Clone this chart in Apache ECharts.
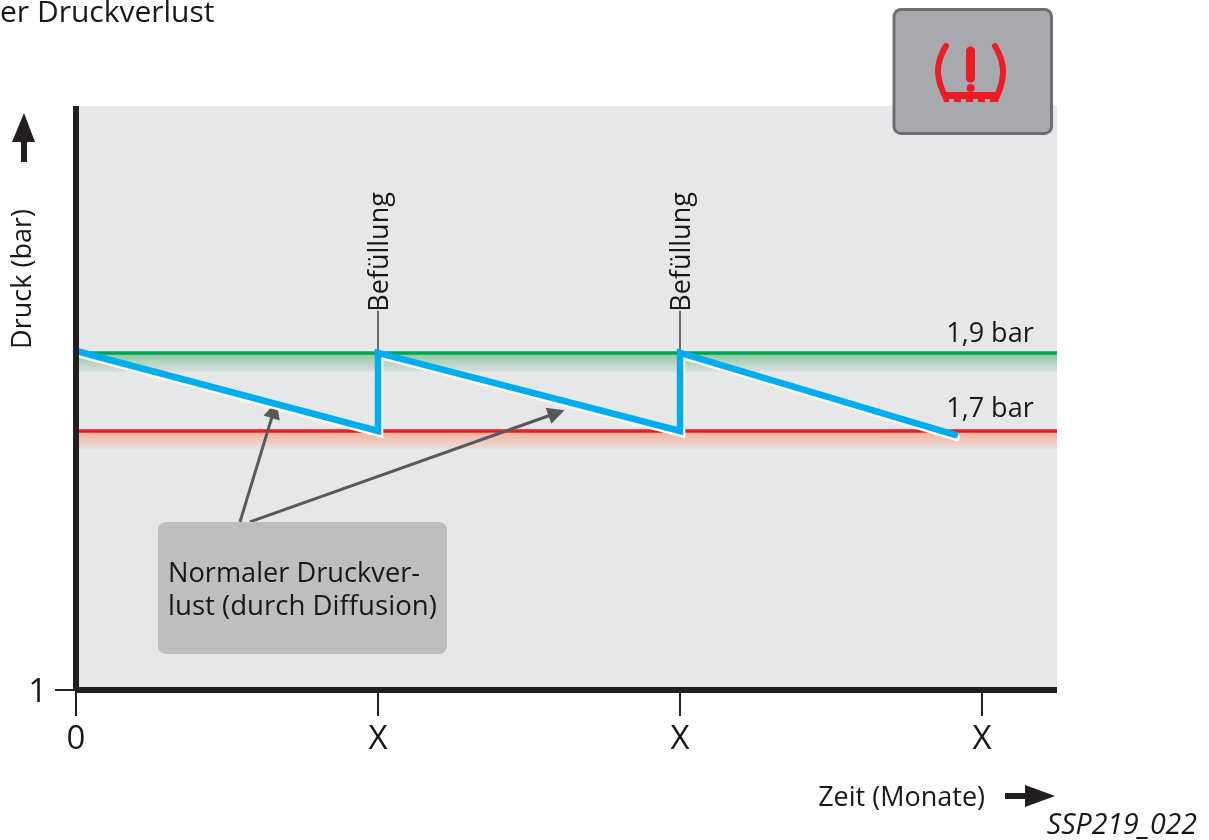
<!DOCTYPE html>
<html><head><meta charset="utf-8">
<style>html,body{margin:0;padding:0;background:#fff}#c{width:1209px;height:840px}</style>
<script src="https://cdn.jsdelivr.net/npm/echarts@6/dist/echarts.min.js"></script>
</head><body><div id="c"></div>
<script>
const FONT = '"Open Sans", sans-serif';
const xTickValues = [0, 1, 2, 3];
const xTickLabels = ['0', 'X', 'X', 'X'];
const yBottom = 1.036;
const yTop = 2.533;
const xMax = 3.248;
const pressureX = [0, 1, 1, 2, 2, 2.91];
const pressureY = [1.905, 1.7, 1.9, 1.7, 1.9, 1.69];
const upperLimit = 1.9;
const lowerLimit = 1.7;
const upperBandBottom = 1.851;
const lowerBandBottom = 1.654;
const limitLabels = ['1,9 bar', '1,7 bar'];
const limitLabelX = 3.026;
const refillX = [1, 2];
const refillTop = 2.008;
const refillLabel = 'Befüllung';
const calloutArrows = [[[0.543, 1.467], [0.656, 1.754]], [[0.576, 1.467], [1.591, 1.746]]];

const INK = '#1a1718';
const grad = (a, b) => new echarts.graphic.LinearGradient(0, 0, 0, 1, [{offset: 0, color: a}, {offset: 1, color: b}]);
const chart = echarts.init(document.getElementById('c'), null, {renderer: 'canvas'});
chart.setOption({
  animation: false,
  backgroundColor: '#fff',
  grid: {left: 76, top: 106, width: 981, height: 584, show: true, backgroundColor: '#e6e7e9', borderWidth: 0},
  xAxis: {
    type: 'value', min: 0, max: xMax, splitLine: {show: false}, z: 10,
    axisLine: {show: true, onZero: false, lineStyle: {color: '#231f20', width: 6, cap: 'butt'}},
    axisTick: {show: true, length: 26, lineStyle: {color: '#231f20', width: 2}, customValues: xTickValues},
    axisLabel: {
      margin: 33, fontFamily: FONT, fontSize: 33, color: INK,
      customValues: xTickValues,
      formatter: v => xTickLabels[xTickValues.indexOf(Math.round(v))]
    }
  },
  yAxis: {
    type: 'value', min: yBottom, max: yTop, splitLine: {show: false}, z: 10,
    axisLine: {show: true, onZero: false, lineStyle: {color: '#231f20', width: 6, cap: 'butt'}},
    axisTick: {show: true, length: 21, lineStyle: {color: '#231f20', width: 2}, customValues: [yBottom]},
    axisLabel: {margin: 29, fontFamily: FONT, fontSize: 33, color: INK, customValues: [yBottom], formatter: () => '{n|1}',
      rich: {n: {fontFamily: FONT, fontSize: 33, color: INK, padding: [5, 0, 0, 0]}}}
  },
  series: [
    {
      name: 'Grenzen', type: 'line', symbol: 'none', silent: true, z: 1,
      data: [[0, upperLimit], [xMax, upperLimit]],
      lineStyle: {color: '#00a651', width: 3.5},
      markArea: {silent: true, z: 0, data: [
        [{coord: [0, upperLimit], itemStyle: {color: grad('#8cc8a0', '#dbe1df')}}, {coord: [xMax, upperBandBottom]}],
        [{coord: [0, lowerLimit], itemStyle: {color: grad('#f6ae98', '#e6e0de')}}, {coord: [xMax, lowerBandBottom]}]
      ]}
    },
    {
      name: 'Grenze unten', type: 'line', symbol: 'none', silent: true, z: 1,
      data: [[0, lowerLimit], [xMax, lowerLimit]],
      lineStyle: {color: '#ed1c24', width: 3.5}
    },
    {
      name: 'Befüllung', type: 'scatter', symbolSize: 0, silent: true, z: 2,
      data: refillX.map(x => [x, refillTop]),
      itemStyle: {opacity: 1},
      label: {show: true, position: 'top', distance: -1, rotate: 90, align: 'left', verticalAlign: 'middle', offset: [0, 2],
        formatter: refillLabel, fontFamily: FONT, fontSize: 27, color: INK},
      markLine: {silent: true, symbol: 'none', label: {show: false},
        lineStyle: {color: '#414042', width: 1.5, type: 'solid'},
        data: refillX.map(x => [{coord: [x, upperLimit]}, {coord: [x, refillTop]}])}
    },
    {
      name: 'Druck', type: 'line', symbol: 'none', z: 5, silent: true,
      data: pressureX.map((x, i) => [x, pressureY[i]]),
      lineStyle: {color: '#00aeef', width: 6.5, join: 'miter', cap: 'round',
        shadowColor: '#ffffff', shadowBlur: 0, shadowOffsetX: 2, shadowOffsetY: 3}
    },
    {
      name: 'Pfeile', type: 'line', data: [], silent: true, z: 6,
      markLine: {silent: true, symbol: ['none', 'triangle'], symbolSize: 17, label: {show: false},
        lineStyle: {color: '#58595b', width: 3, type: 'solid'},
        data: calloutArrows.map(a => [{coord: a[0]}, {coord: a[1]}])}
    },
    {
      name: 'Grenzwerte', type: 'scatter', symbolSize: 0, silent: true, z: 7,
      itemStyle: {opacity: 1},
      data: [
        {value: [limitLabelX, upperLimit], label: {distance: 5}},
        {value: [limitLabelX, lowerLimit], label: {distance: 8}}
      ],
      label: {show: true, position: 'top', fontFamily: FONT, fontSize: 27, color: INK,
        formatter: p => limitLabels[p.dataIndex]}
    }
  ],
  graphic: [
    {type: 'text', x: 0, y: 13, z: 20, style: {text: 'er Druckverlust', fontFamily: FONT, fontSize: 30, fill: INK, verticalAlign: 'middle'}},
    {type: 'text', x: 10, y: 279, rotation: Math.PI / 2, z: 20,
      style: {text: 'Druck (bar)', fontFamily: FONT, fontSize: 27, fill: INK, align: 'center', verticalAlign: 'top'}},
    {type: 'polygon', z: 20, shape: {points: [[24, 113], [35, 142], [27, 142], [27, 162], [21, 162], [21, 142], [12, 142]]}, style: {fill: '#231f20'}},
    {type: 'text', x: 985, y: 798, z: 20, style: {text: 'Zeit (Monate)', fontFamily: FONT, fontSize: 27, fill: INK, align: 'right', verticalAlign: 'middle'}},
    {type: 'polygon', z: 20, shape: {points: [[1005, 793], [1025, 793], [1025, 785], [1055, 796], [1025, 807], [1025, 799], [1005, 799]]}, style: {fill: '#231f20'}},
    {type: 'text', x: 1197, y: 826, z: 20, style: {text: 'SSP219_022', fontFamily: FONT, fontSize: 28.5, fontStyle: 'italic', fill: INK, align: 'right', verticalAlign: 'middle'}},
    {type: 'rect', z: 15, shape: {x: 158, y: 522, width: 289, height: 132, r: 8}, style: {fill: '#bcbec0'}},
    {type: 'text', x: 168, y: 574, z: 16, style: {text: 'Normaler Druckver-', fontFamily: FONT, fontSize: 27.2, fill: INK, verticalAlign: 'middle'}},
    {type: 'text', x: 168, y: 607, z: 16, style: {text: 'lust (durch Diffusion)', fontFamily: FONT, fontSize: 27.6, fill: INK, verticalAlign: 'middle'}},
    {type: 'rect', z: 30, shape: {x: 894, y: 9.5, width: 157.5, height: 124, r: 7}, style: {fill: '#a7a9ac', stroke: '#6d6e71', lineWidth: 3}},
    {type: 'polyline', z: 31, shape: {points: [[946, 46], [938, 70], [945, 96]], smooth: 0.5}, style: {fill: null, stroke: '#ed1c24', lineWidth: 6, lineCap: 'round'}},
    {type: 'polyline', z: 31, shape: {points: [[995, 46], [1003, 70], [997, 96]], smooth: 0.5}, style: {fill: null, stroke: '#ed1c24', lineWidth: 6, lineCap: 'round'}},
    {type: 'polygon', z: 31, shape: {points: [[941, 92], [1001, 92], [998, 102], [990, 102], [990, 99], [985, 99], [985, 102], [978, 102], [978, 99], [973, 99], [973, 102], [966, 102], [966, 99], [961, 99], [961, 102], [954, 102], [954, 99], [949, 99], [949, 102], [944, 102]]},
      style: {fill: '#ed1c24'}},
    {type: 'rect', z: 31, shape: {x: 966, y: 46.5, width: 9, height: 36, r: 4.5}, style: {fill: '#ed1c24'}},
    {type: 'circle', z: 31, shape: {cx: 970.7, cy: 88, r: 4}, style: {fill: '#ed1c24'}}
  ]
});
</script></body></html>
